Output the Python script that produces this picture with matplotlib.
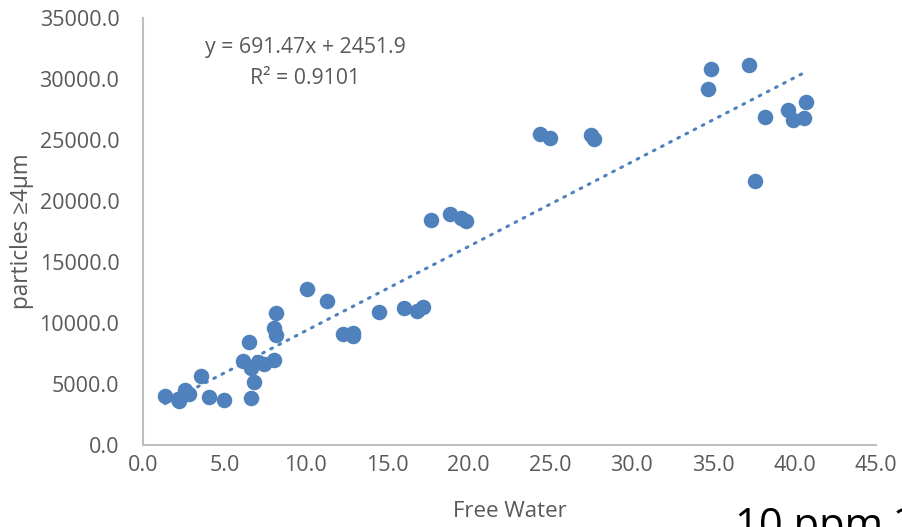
import numpy as np
import matplotlib.pyplot as plt

plt.rcParams['font.family'] = ['Open Sans', 'DejaVu Sans']

# free water vs particles >= 4 um
free_water = [1.35, 2.2, 2.6, 2.8, 3.55, 4.05, 4.97, 6.6, 6.8, 6.5,
              6.15, 6.65, 7.05, 7.45, 8.05, 8.05, 8.15, 8.15, 10.05, 11.3,
              12.3, 12.9, 12.9, 14.5, 16.0, 16.8, 17.2, 17.7, 18.85, 19.5,
              19.8, 24.4, 25.0, 27.5, 27.7, 34.9, 34.7, 37.2, 38.2, 37.6,
              39.6, 39.9, 40.6, 40.7, 2.15]
particles = [4020, 3600, 4500, 4180, 5650, 3930, 3700, 3850, 5160, 8440,
             6880, 6300, 6800, 6640, 6970, 9590, 9020, 10820, 12790, 11800,
             9100, 9200, 8900, 10900, 11230, 10980, 11300, 18440, 18930, 18600,
             18360, 25490, 25160, 25410, 25080, 30820, 29180, 31150, 26890, 21640,
             27460, 26640, 26800, 28110, 3800]

# trendline as printed on the chart
slope = 691.47
intercept = 2451.9
r_squared = 0.9101

blue = '#4F81BD'
grey_text = '#595959'

fig = plt.figure(figsize=(9.02, 5.27), dpi=100)
ax = fig.add_axes([143/902, 82/527, 733/902, 427/527])

ax.scatter(free_water, particles, s=125, color=blue, zorder=3, linewidths=0)

xs = np.array([min(free_water), max(free_water)])
ax.plot(xs, slope*xs + intercept, color=blue, linestyle=(0, (0.6, 2.4)),
        linewidth=2.2, dash_capstyle='round', zorder=2)

ax.text(9.95, 32550, f"y = {slope}x + {intercept}", ha='center', va='center',
        fontsize=15.3, color=grey_text)
ax.text(9.95, 30050, f"R² = {r_squared}", ha='center', va='center',
        fontsize=15.3, color=grey_text)

ax.set_xlim(0, 45)
ax.set_ylim(0, 35000)
ax.set_xticks(np.arange(0, 46, 5))
ax.set_yticks(np.arange(0, 35001, 5000))
ax.set_xticklabels([f"{v:.1f}" for v in np.arange(0, 46, 5)])
ax.set_yticklabels([f"{v:.1f}" for v in np.arange(0, 35001, 5000)])
ax.tick_params(length=0, labelsize=15.5, colors=grey_text)
ax.tick_params(axis='x', pad=7)
ax.tick_params(axis='y', pad=17)

for side in ['top', 'right']:
    ax.spines[side].set_visible(False)
for side in ['left', 'bottom']:
    ax.spines[side].set_color('#BFBFBF')
    ax.spines[side].set_linewidth(1.5)

ax.set_xlabel("Free Water", fontsize=16, color=grey_text, labelpad=18)
ax.set_ylabel("particles ≥4µm", fontsize=16.3, color=grey_text, labelpad=4)

fig.text(735/902, 1 - 506/527, "10 ppm 2", fontsize=30, color='black',
         ha='left', va='top')

fig.savefig('out.png', dpi=100)
